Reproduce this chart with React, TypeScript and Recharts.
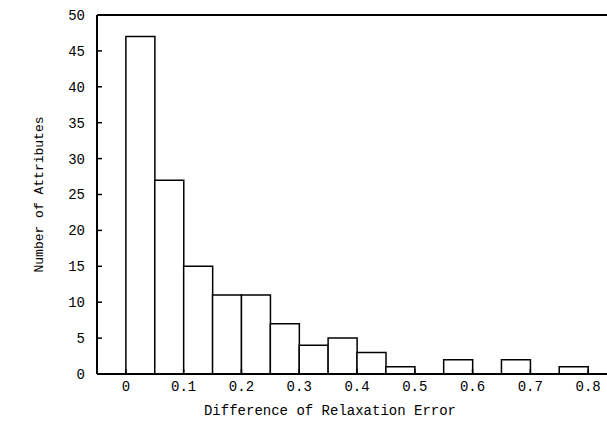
import { BarChart, Bar, XAxis, YAxis } from 'recharts'

// histogram bins, width 0.05, given by their centres
const binCenters = [
  0.025, 0.075, 0.125, 0.175, 0.225, 0.275, 0.325, 0.375,
  0.425, 0.475, 0.525, 0.575, 0.625, 0.675, 0.725, 0.775,
]
const counts = [47, 27, 15, 11, 11, 7, 4, 5, 3, 1, 0, 2, 0, 2, 0, 1]

const xTicks = [0, 0.1, 0.2, 0.3, 0.4, 0.5, 0.6, 0.7, 0.8]
const yTicks = [0, 5, 10, 15, 20, 25, 30, 35, 40, 45, 50]

const data = binCenters.map((x, i) => ({ x, count: counts[i] }))

const FONT = '"Liberation Mono", "DejaVu Sans Mono", monospace'
const tickStyle = { fill: '#000', fontSize: 14, fontFamily: FONT }
const axisLine = { stroke: '#000', strokeWidth: 2 }
const tickLine = { stroke: '#000', strokeWidth: 1.5 }

export default function App() {
  return (
    <div
      style={{
        position: 'absolute',
        left: 0,
        top: 0,
        width: 607,
        height: 421,
        overflow: 'hidden',
        background: '#fff',
      }}
    >
      <BarChart
        width={630}
        height={421}
        data={data}
        margin={{ top: 0, right: 13, left: 0, bottom: 0 }}
        barCategoryGap={0}
        barGap={0}
      >
        <XAxis
          dataKey="x"
          type="number"
          domain={[-0.05, 0.85]}
          ticks={xTicks}
          allowDataOverflow
          height={47}
          tickSize={-5}
          tickMargin={12}
          tick={tickStyle}
          axisLine={axisLine}
          tickLine={tickLine}
          label={{
            value: 'Difference of Relaxation Error',
            position: 'insideBottom',
            offset: 6,
            dx: -27,
            style: { fill: '#000', fontSize: 14, fontFamily: FONT },
          }}
        />
        <XAxis
          xAxisId="top"
          orientation="top"
          dataKey="x"
          type="number"
          domain={[-0.05, 0.85]}
          ticks={xTicks}
          allowDataOverflow
          height={15}
          tickSize={-5}
          tick={false}
          axisLine={axisLine}
          tickLine={tickLine}
        />
        <YAxis
          type="number"
          domain={[0, 50]}
          ticks={yTicks}
          width={97}
          tickSize={-5}
          tickMargin={17}
          tick={tickStyle}
          axisLine={axisLine}
          tickLine={tickLine}
          label={{
            value: 'Number of Attributes',
            angle: -90,
            position: 'insideLeft',
            offset: 38,
            style: { fill: '#000', fontSize: 13, fontFamily: FONT, textAnchor: 'middle' },
          }}
        />
        <Bar
          dataKey="count"
          fill="#fff"
          stroke="#000"
          strokeWidth={1.5}
          isAnimationActive={false}
        />
      </BarChart>
    </div>
  )
}
